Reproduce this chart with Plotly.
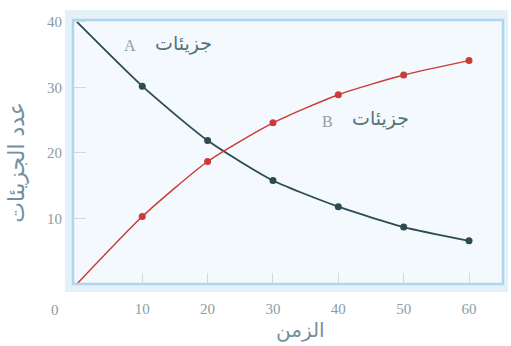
import plotly.graph_objects as go

time = [0, 10, 20, 30, 40, 50, 60]
molecules_a = [40, 30.2, 21.9, 15.8, 11.8, 8.7, 6.6]
molecules_b = [0, 10.3, 18.7, 24.6, 28.9, 31.9, 34.1]
x_ticks = [10, 20, 30, 40, 50, 60]
y_ticks = [10, 20, 30, 40]

label_a = "جزيئات"
label_b = "جزيئات"
x_title = "الزمن"
y_title = "عدد الجزيئات"

col_a = "#2d4b52"
col_b = "#cc3a3a"
tick_font = dict(family="Liberation Serif", size=15, color="#8d9ca1")
ar_font = dict(family="DejaVu Sans", size=19, color="#557279")
letter_font = dict(family="Liberation Serif", size=16, color="#8ea1a6")
title_font = dict(family="DejaVu Sans", size=20, color="#7390a0")
ytitle_font = dict(family="DejaVu Sans", size=22, color="#7390a0")

fig = go.Figure()
fig.add_trace(go.Scatter(
    x=time[1:], y=molecules_a[1:], mode="markers",
    marker=dict(color=col_a, size=7), hoverinfo="skip"))
fig.add_trace(go.Scatter(
    x=time, y=molecules_a, mode="lines", line=dict(color=col_a, width=1.8, shape="spline", smoothing=0.6)))
fig.add_trace(go.Scatter(
    x=time[1:], y=molecules_b[1:], mode="markers",
    marker=dict(color=col_b, size=7), hoverinfo="skip"))
fig.add_trace(go.Scatter(
    x=time, y=molecules_b, mode="lines", line=dict(color=col_b, width=1.5, shape="spline", smoothing=0.6)))

# outer light-blue frame and inner plot panel
fig.add_shape(type="rect", xref="paper", yref="paper", x0=-0.019, x1=1.012, y0=-0.03, y1=1.038,
              fillcolor="#e4f1f9", line=dict(width=0), layer="below")
fig.add_shape(type="rect", xref="paper", yref="paper", x0=0, x1=1, y0=0, y1=1,
              fillcolor="#f3f9fd", line=dict(width=0), layer="below")
fig.add_shape(type="rect", xref="paper", yref="paper", x0=0, x1=1, y0=0, y1=1,
              fillcolor="rgba(0,0,0,0)", line=dict(color="#aed6ee", width=2.5), layer="above")

def note(text, x, y, font, angle=0):
    return dict(text=text, xref="paper", yref="paper", x=x, y=y, xanchor="center",
                yanchor="middle", showarrow=False, font=font, textangle=angle)

fig.update_layout(
    width=511, height=346,
    margin=dict(l=73, r=8, t=20, b=62),
    paper_bgcolor="white", plot_bgcolor="#f3f9fd",
    showlegend=False,
    xaxis=dict(range=[-0.6, 65.2], tickvals=x_ticks, ticks="inside", ticklen=11,
               tickcolor="#cfdadd", tickwidth=1, showgrid=False, zeroline=False,
               showline=False, tickfont=tick_font, ticklabelstandoff=14),
    yaxis=dict(range=[0, 40.3], tickvals=y_ticks, ticks="inside", ticklen=13,
               tickcolor="#cfdadd", tickwidth=1, showgrid=False, zeroline=False,
               showline=False, tickfont=tick_font, ticklabelstandoff=10),
    annotations=[
        note("0", -0.042, -0.098, tick_font),
        note("A", 0.133, 0.902, letter_font),
        note(label_a, 0.256, 0.912, ar_font),
        note("B", 0.593, 0.617, letter_font),
        note(label_b, 0.714, 0.627, ar_font),
        note(x_title, 0.528, -0.174, title_font),
        note(y_title, -0.132, 0.46, ytitle_font, -90),
    ],
)

fig.write_html("out.html", config={"displayModeBar": False},
               post_script="document.body.style.margin='0';")
